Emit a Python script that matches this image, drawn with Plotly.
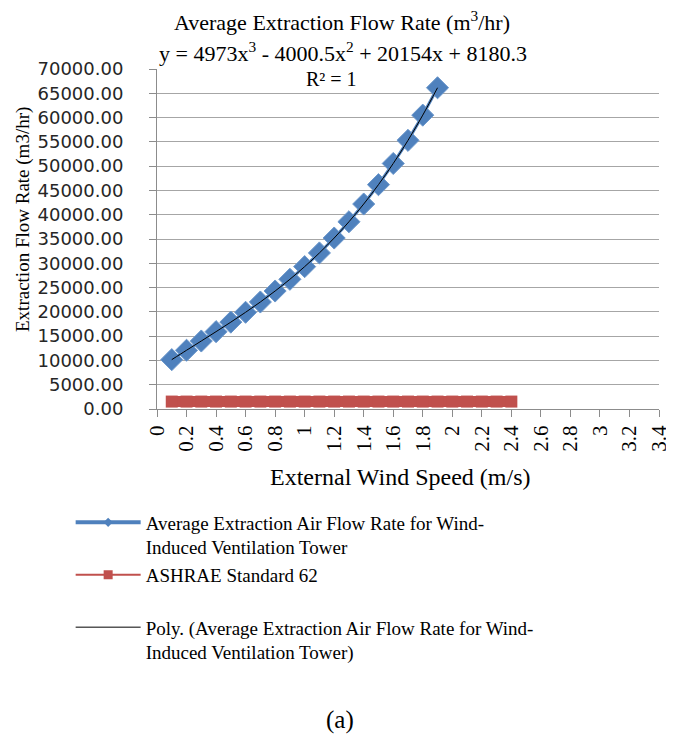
import plotly.graph_objects as go

# ---- data ----
wind_speed = [0.1, 0.2, 0.3, 0.4, 0.5, 0.6, 0.7, 0.8, 0.9, 1.0,
              1.1, 1.2, 1.3, 1.4, 1.5, 1.6, 1.7, 1.8, 1.9]
extraction_flow = [10160, 12090, 14000, 15920, 17880, 19910, 22030, 24290, 26700, 29310,
                   32130, 35200, 38550, 42200, 46190, 50550, 55310, 60500, 66140]
ashrae_speed = [0.1, 0.2, 0.3, 0.4, 0.5, 0.6, 0.7, 0.8, 0.9, 1.0, 1.1, 1.2,
                1.3, 1.4, 1.5, 1.6, 1.7, 1.8, 1.9, 2.0, 2.1, 2.2, 2.3, 2.4]
ashrae_flow = [1530] * 24

name_blue = "Average Extraction Air Flow Rate for Wind-<br>Induced Ventilation Tower"
name_red = "ASHRAE Standard 62<br>&nbsp;"
name_poly = "Poly. (Average Extraction Air Flow Rate for Wind-<br>Induced Ventilation Tower)"

SERIF = "Liberation Serif, Times New Roman, serif"
SANS = "DejaVu Sans, Verdana, sans-serif"
BLUE, RED = "#4F81BD", "#C0504D"

fig = go.Figure()
# plotted series (legend handled by legend-only entries below)
fig.add_trace(go.Scatter(
    x=ashrae_speed, y=ashrae_flow, mode="lines", showlegend=False,
    line=dict(color=RED, width=11),
))
fig.add_trace(go.Scatter(
    x=ashrae_speed, y=ashrae_flow, mode="markers", showlegend=False,
    marker=dict(symbol="square", size=12, color=RED),
))
fig.add_trace(go.Scatter(
    x=wind_speed, y=extraction_flow, mode="lines+markers", showlegend=False,
    line=dict(color=BLUE, width=3),
    marker=dict(symbol="diamond", size=17, color=BLUE,
                line=dict(color="#6C98CC", width=1)),
))
fig.add_trace(go.Scatter(
    x=wind_speed, y=extraction_flow, mode="lines", showlegend=False,
    line=dict(color="black", width=1, shape="spline"),
))
# legend entries
fig.add_trace(go.Scatter(
    x=[None], y=[None], mode="lines+markers", name=name_blue,
    line=dict(color=BLUE, width=4), marker=dict(symbol="diamond", size=7, color=BLUE),
))
fig.add_trace(go.Scatter(
    x=[None], y=[None], mode="lines+markers", name=name_red,
    line=dict(color=RED, width=2), marker=dict(symbol="square", size=9, color=RED),
))
fig.add_trace(go.Scatter(
    x=[None], y=[None], mode="lines", name=name_poly,
    line=dict(color="black", width=1),
))

fig.update_layout(
    width=674, height=741,
    margin=dict(l=149, r=23, t=61, b=340),
    paper_bgcolor="white", plot_bgcolor="white",
    font=dict(family=SERIF, size=17, color="black"),
    showlegend=True,
    legend=dict(
        x=-0.172, xanchor="left", y=-0.278, yanchor="top",
        font=dict(family=SERIF, size=19, color="black"),
        itemwidth=65, valign="top",
        tracegroupgap=3, bgcolor="rgba(0,0,0,0)",
    ),
    xaxis=dict(
        range=[0, 3.4], dtick=0.2, tick0=0,
        showgrid=False, zeroline=False,
        showline=True, linecolor="#8C8C8C", linewidth=1,
        ticks="outside", ticklen=7, tickcolor="#8C8C8C",
        tickangle=-90,
        tickfont=dict(family=SERIF, size=21, color="black"),
    ),
    yaxis=dict(
        range=[0, 70000], dtick=5000, tickformat=".2f",
        showgrid=True, gridcolor="#A6A6A6", gridwidth=1,
        zeroline=False,
        showline=True, linecolor="#8C8C8C", linewidth=1,
        ticks="outside", ticklen=7, tickcolor="#8C8C8C",
        tickfont=dict(family=SANS, size=18, color="#262626"),
        ticklabelstandoff=22,
    ),
)

ann = [
    dict(text="Average Extraction Flow Rate (m<sup>3</sup>/hr)", x=334, y=13,
         font=dict(size=22)),
    dict(text="y = 4973x<sup>3</sup> - 4000.5x<sup>2</sup> + 20154x + 8180.3", x=335, y=44,
         font=dict(size=22)),
    dict(text="R² = 1", x=323, y=71, font=dict(size=20)),
    dict(text="External Wind Speed (m/s)", x=392, y=469, font=dict(size=24)),
    dict(text="Extraction Flow Rate (m3/hr)", x=15, y=212, textangle=-90,
         font=dict(size=19)),
    dict(text="(a)", x=332, y=712, font=dict(size=25)),
]

# convert page pixel coordinates to paper coordinates of the plot area
pl, pr, pt, pb = 149, 674 - 23, 61, 741 - 340
for a in ann:
    fig.add_annotation(
        text=a["text"],
        x=(a["x"] - pl) / (pr - pl), y=(pb - a["y"]) / (pb - pt),
        xref="paper", yref="paper",
        showarrow=False, xanchor="center", yanchor="middle",
        textangle=a.get("textangle", 0),
        font=dict(family=SERIF, color="black", **a["font"]),
    )

fig.write_html("out.html")
